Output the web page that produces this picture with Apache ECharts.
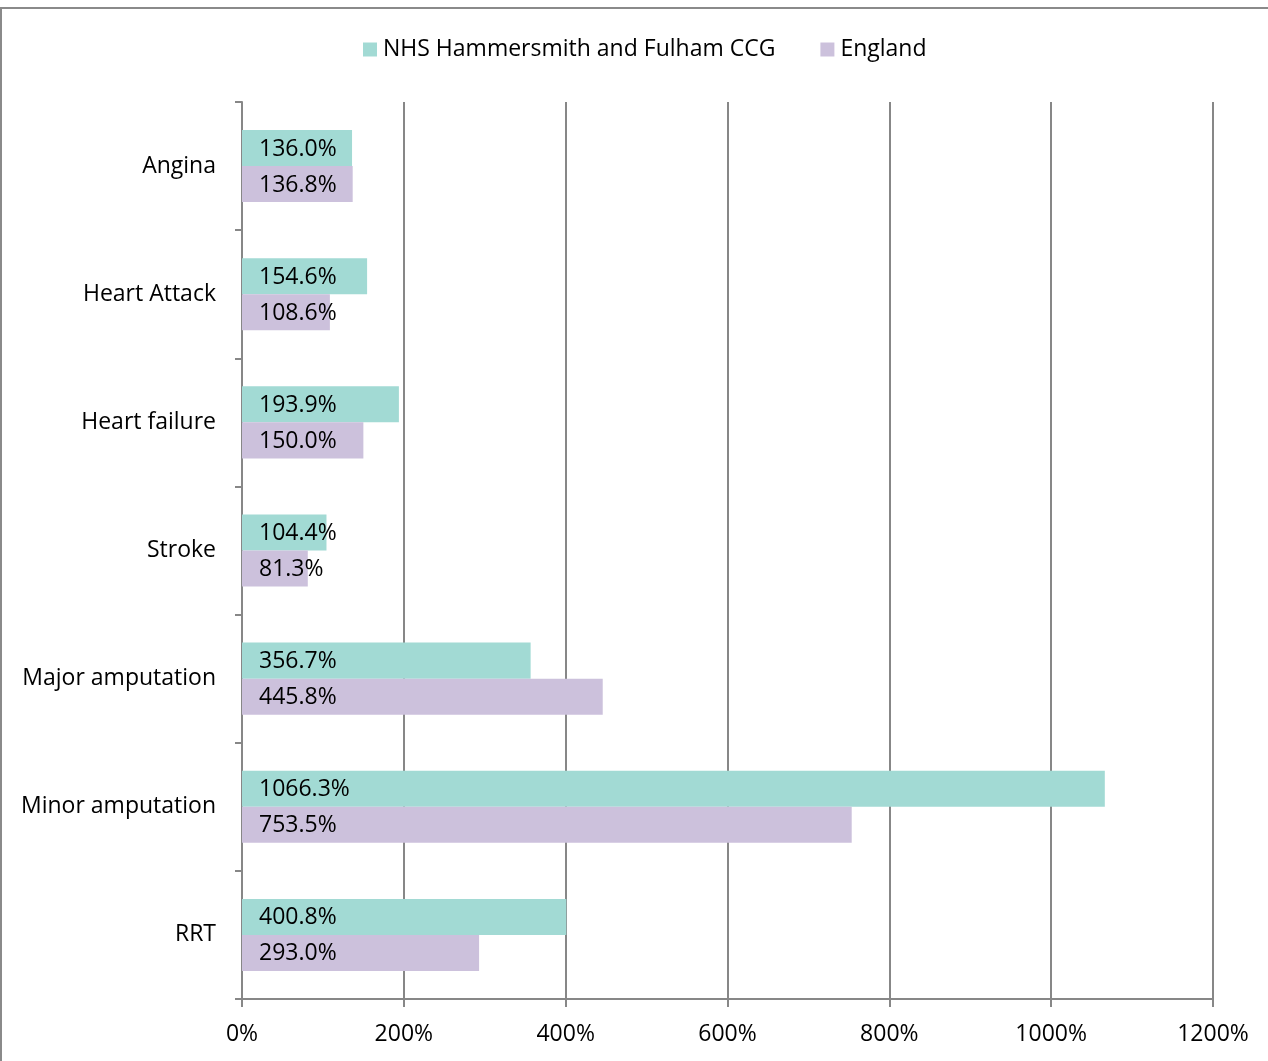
<!DOCTYPE html>
<html><head><meta charset="utf-8">
<script src="https://cdn.jsdelivr.net/npm/echarts@6/dist/echarts.min.js"></script>
<style>
html,body{margin:0;padding:0;background:#fff;overflow:hidden;}
#frame{position:absolute;left:0;top:7px;width:1300px;height:1100px;border:2px solid #8a8a8a;box-sizing:border-box;}
#chart{position:absolute;left:0;top:0;width:1268px;height:1061px;}
</style></head>
<body>
<div id="frame"></div>
<div id="chart"></div>
<script>
const categories = ["Angina","Heart Attack","Heart failure","Stroke","Major amputation","Minor amputation","RRT"];
const seriesNames = ["NHS Hammersmith and Fulham CCG","England"];
const nhsValues = [136.0,154.6,193.9,104.4,356.7,1066.3,400.8];
const englandValues = [136.8,108.6,150.0,81.3,445.8,753.5,293.0];
const xTicks = [0,200,400,600,800,1000,1200];

const FONT = "'Open Sans', sans-serif";
const FS = 23;
const chart = echarts.init(document.getElementById('chart'), null, {renderer:'canvas'});
const labelOpt = {
  show:true, position:'insideLeft', distance:17, offset:[0,1],
  formatter: p => p.value.toFixed(1) + '%',
  color:'#000', fontSize:FS, fontFamily:FONT
};
chart.setOption({
  animation:false,
  legend:{
    top:38, left:363, padding:0, itemWidth:14, itemHeight:14, itemGap:45,
    icon:'rect',
    textStyle:{fontSize:FS, color:'#000', fontFamily:FONT, padding:[0,0,0,1]},
    data:seriesNames
  },
  grid:{left:242, right:55, top:102, bottom:62, containLabel:false},
  xAxis:{
    type:'value', min:xTicks[0], max:xTicks[xTicks.length-1], interval:200,
    axisLine:{show:true, lineStyle:{color:'#878787', width:2}},
    axisTick:{show:true, length:8, lineStyle:{color:'#878787', width:2}},
    splitLine:{show:true, lineStyle:{color:'#878787', width:2}},
    axisLabel:{formatter: v => v + '%', fontSize:FS, color:'#000', fontFamily:FONT, margin:24}
  },
  yAxis:{
    type:'category', inverse:true, data:categories,
    axisLine:{show:true, lineStyle:{color:'#878787', width:2}},
    axisTick:{show:true, length:7, lineStyle:{color:'#878787', width:2}},
    axisLabel:{fontSize:FS, color:'#000', fontFamily:FONT, margin:26}
  },
  series:[
    {name:seriesNames[0], type:'bar', data:nhsValues, barGap:'0%', barCategoryGap:'43.75%',
     itemStyle:{color:'#A2DAD4'}, label:labelOpt},
    {name:seriesNames[1], type:'bar', data:englandValues, barGap:'0%', barCategoryGap:'43.75%',
     itemStyle:{color:'#CCC1DC'}, label:labelOpt}
  ]
});
</script>
</body></html>
